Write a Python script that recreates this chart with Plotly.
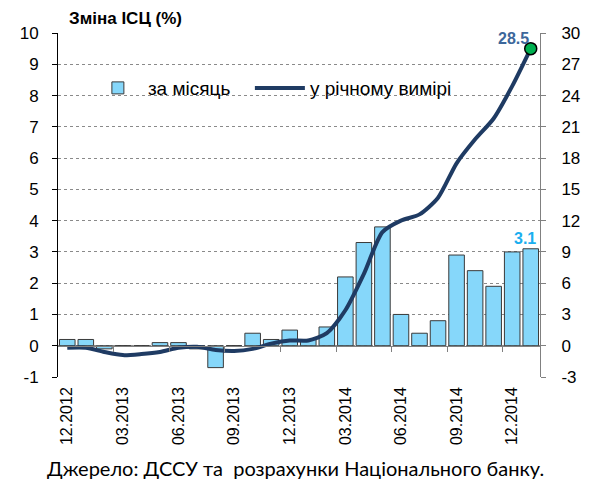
import plotly.graph_objects as go

months = ["12.2012", "01.2013", "02.2013", "03.2013", "04.2013", "05.2013", "06.2013",
          "07.2013", "08.2013", "09.2013", "10.2013", "11.2013", "12.2013",
          "01.2014", "02.2014", "03.2014", "04.2014", "05.2014", "06.2014",
          "07.2014", "08.2014", "09.2014", "10.2014", "11.2014", "12.2014", "01.2015"]
monthly = [0.2, 0.2, -0.1, 0.0, 0.0, 0.1, 0.1, -0.1, -0.7, 0.0, 0.4, 0.2, 0.5,
           0.2, 0.6, 2.2, 3.3, 3.8, 1.0, 0.4, 0.8, 2.9, 2.4, 1.9, 3.0, 3.1]
annual = [-0.2, -0.2, -0.6, -0.9, -0.8, -0.6, -0.2, -0.1, -0.4, -0.5, -0.3, 0.2, 0.5,
          0.5, 1.2, 3.4, 6.9, 10.9, 12.0, 12.6, 14.2, 17.5, 19.8, 21.8, 24.9, 28.5]
tick_labels = ["12.2012", "03.2013", "06.2013", "09.2013", "12.2013",
               "03.2014", "06.2014", "09.2014", "12.2014"]
left_ticks = [-1, 0, 1, 2, 3, 4, 5, 6, 7, 8, 9, 10]
left_tick_text = ["-1", "0", "1", "2", "3", "4", "5", "6", "7", "8", "9", "10"]
right_ticks = [-3, 0, 3, 6, 9, 12, 15, 18, 21, 24, 27, 30]
right_tick_text = ["-3", "0", "3", "6", "9", "12", "15", "18", "21", "24", "27", "30"]

xs = list(range(len(months)))
label_pos = [months.index(t) for t in tick_labels]
tick_marks = [p - 0.5 for p in label_pos[1:]]

FONT = "Liberation Sans, Arial, sans-serif"

fig = go.Figure()
fig.add_trace(go.Bar(
    x=xs, y=monthly, name="за місяць", width=0.84, legendwidth=97,
    marker=dict(color="#86d7fa", line=dict(color="#3a3a3a", width=1)),
    yaxis="y", xaxis="x"))
fig.add_trace(go.Scatter(
    x=xs, y=annual, name="у річному вимірі", mode="lines", legendwidth=170,
    line=dict(color="#1f3b63", width=4, shape="spline", smoothing=0.7),
    yaxis="y2", xaxis="x"))
fig.add_trace(go.Scatter(
    x=[xs[-1]], y=[annual[-1]], mode="markers", showlegend=False,
    marker=dict(color="#00b050", size=12, line=dict(color="#000000", width=1.5)),
    yaxis="y2", xaxis="x"))
# dummy trace to activate the zero-line axis with tick marks
fig.add_trace(go.Scatter(x=[None], y=[None], xaxis="x2", yaxis="y",
                         showlegend=False, hoverinfo="skip"))

fig.update_layout(
    width=584, height=476,
    margin=dict(l=45, r=46, t=25, b=107),
    paper_bgcolor="white", plot_bgcolor="white",
    font=dict(family=FONT, size=16, color="#000000"),
    showlegend=True,
    legend=dict(orientation="h", x=0.062, y=0.84, xanchor="left", yanchor="middle",
                bgcolor="rgba(0,0,0,0)", font=dict(size=19, family=FONT),
                itemwidth=50, tracegroupgap=0),
    bargap=0.16,
    xaxis=dict(range=[-0.5, len(months) - 0.5], tickmode="array",
               tickvals=label_pos, ticktext=tick_labels, tickangle=-90,
               ticks="", showline=False, showgrid=False, zeroline=False,
               ticklabelstandoff=6,
               tickfont=dict(size=16, family=FONT)),
    xaxis2=dict(range=[-0.5, len(months) - 0.5], overlaying="x", anchor="free",
                position=1 / 11, side="bottom", tickmode="array",
                tickvals=tick_marks, ticks="outside", ticklen=5, tickcolor="#808080",
                showticklabels=False, showline=True, linecolor="#808080", linewidth=1,
                showgrid=False, zeroline=False),
    yaxis=dict(range=[-1, 10], tickmode="array", tickvals=left_ticks,
               ticktext=left_tick_text, ticks="outside", ticklen=5,
               tickcolor="#000000", showline=True, linecolor="#000000", linewidth=1,
               showgrid=True, gridcolor="#8a8a8a", griddash="dot", gridwidth=1,
               zeroline=False, ticklabelstandoff=10,
               tickfont=dict(size=17, family=FONT)),
    yaxis2=dict(range=[-3, 30], tickmode="array", tickvals=right_ticks,
                ticktext=right_tick_text, overlaying="y", side="right",
                anchor="x", ticks="outside", ticklen=5, tickcolor="#808080",
                showline=True, linecolor="#808080", linewidth=1, showgrid=False,
                zeroline=False, ticklabelstandoff=12,
                tickfont=dict(size=17, family=FONT)),
    annotations=[
        dict(text="<b>Зміна ІСЦ (%)</b>", xref="paper", yref="paper",
             x=(62 - 53) / 493, y=1.0, xanchor="left", yanchor="bottom", yshift=3,
             showarrow=False, font=dict(size=17, family=FONT, color="#000000")),
        dict(text="<b>28.5</b>", x=xs[-1], y=annual[-1], xref="x", yref="y2",
             xanchor="right", yanchor="bottom", xshift=0, yshift=0, showarrow=False,
             font=dict(size=16, family=FONT, color="#3d679b")),
        dict(text="<b>3.1</b>", x=xs[-1], y=monthly[-1], xref="x", yref="y",
             xanchor="right", yanchor="bottom", xshift=7, yshift=0, showarrow=False,
             font=dict(size=16, family=FONT, color="#1aaeef")),
        dict(text="Джерело: ДССУ та  розрахунки Національного банку.",
             xref="paper", yref="paper", x=(296 - 53) / 493, y=-(468 - 377) / 344,
             xanchor="center", yanchor="middle", showarrow=False,
             font=dict(size=20, family="Lato, sans-serif", color="#000000")),
    ],
)

fig.write_html("out.html")
